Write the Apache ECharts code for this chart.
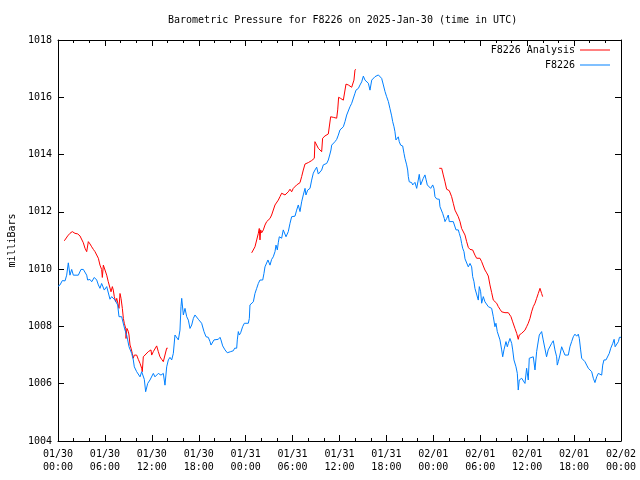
<!DOCTYPE html>
<html>
<head>
<meta charset="utf-8">
<script src="https://cdn.jsdelivr.net/npm/echarts@6/dist/echarts.min.js"></script>
<style>html,body{margin:0;padding:0;background:#fff}#c{width:640px;height:480px}</style>
</head>
<body>
<div id="c"></div>
<script>
const titleText = 'Barometric Pressure for F8226 on 2025-Jan-30 (time in UTC)';
const yAxisName = 'milliBars';
const xTickLabels = ['01/30\n00:00','01/30\n06:00','01/30\n12:00','01/30\n18:00','01/31\n00:00','01/31\n06:00','01/31\n12:00','01/31\n18:00','02/01\n00:00','02/01\n06:00','02/01\n12:00','02/01\n18:00','02/02\n00:00'];
const seriesNames = ['F8226 Analysis', 'F8226'];

// hours since 2025-01-30 00:00 UTC, pressure in mbar
const stationData = [
[0,1009.40],[0.26,1009.45],[0.55,1009.60],[0.90,1009.59],[1.11,1009.79],[1.32,1010.22],[1.53,1009.79],[1.75,1009.99],[1.96,1009.79],[2.17,1009.74],[2.60,1009.79],[2.94,1009.99],[3.24,1009.99],[3.67,1009.79],[3.79,1009.62],[4.09,1009.64],[4.31,1009.56],[4.64,1009.71],[4.95,1009.62],[5.16,1009.45],[5.37,1009.33],[5.58,1009.50],[5.92,1009.27],[6.23,1009.39],[6.43,1009.45],[6.65,1008.95],[6.86,1009.04],[7.29,1008.92],[7.63,1008.75],[7.80,1008.34],[8.14,1008.34],[8.40,1008.05],[8.57,1007.87],[8.78,1007.70],[8.91,1007.53],[9.08,1007.29],[9.42,1007.06],[9.63,1006.83],[9.76,1006.59],[10.06,1006.42],[10.49,1006.24],[10.70,1006.42],[10.91,1006.36],[11.04,1006.15],[11.21,1005.72],[11.47,1006.01],[11.76,1006.13],[12.19,1006.36],[12.40,1006.24],[12.83,1006.36],[13.17,1006.30],[13.47,1006.36],[13.68,1005.95],[13.90,1006.59],[14.11,1006.83],[14.32,1006.92],[14.54,1006.83],[14.75,1007.06],[14.96,1007.70],[15.18,1007.70],[15.39,1007.53],[15.60,1007.87],[15.73,1008.69],[15.82,1008.98],[16.03,1008.40],[16.24,1008.63],[16.46,1008.34],[16.67,1008.22],[16.88,1007.93],[17.10,1008.05],[17.31,1008.28],[17.52,1008.40],[17.74,1008.34],[17.95,1008.25],[18.37,1008.11],[18.50,1008.08],[18.67,1007.82],[18.93,1007.64],[19.22,1007.62],[19.44,1007.47],[19.57,1007.35],[19.78,1007.39],[19.95,1007.53],[20.50,1007.55],[20.72,1007.62],[20.84,1007.53],[21.06,1007.32],[21.36,1007.18],[21.65,1007.08],[21.87,1007.04],[22.08,1007.12],[22.42,1007.15],[22.59,1007.24],[22.85,1007.24],[22.93,1007.53],[23.06,1007.82],[23.19,1007.70],[23.36,1007.78],[23.61,1007.99],[23.83,1008.11],[24.34,1008.11],[24.47,1008.28],[24.55,1008.75],[24.77,1008.81],[24.98,1008.86],[25.19,1009.15],[25.41,1009.33],[25.62,1009.50],[25.83,1009.62],[26.18,1009.62],[26.34,1009.85],[26.47,1010.08],[26.69,1010.14],[26.85,1010.32],[27.11,1010.14],[27.32,1010.34],[27.53,1010.43],[27.75,1010.61],[27.88,1010.84],[28.05,1010.67],[28.17,1010.92],[28.30,1011.13],[28.60,1011.08],[28.81,1011.37],[28.94,1011.42],[29.16,1011.13],[29.45,1011.31],[29.67,1011.60],[29.88,1011.83],[30.31,1011.85],[30.52,1012.06],[30.73,1012.24],[30.95,1012.01],[31.16,1012.35],[31.37,1012.59],[31.59,1012.82],[31.71,1012.59],[31.93,1012.76],[32.23,1012.82],[32.44,1013.11],[32.65,1013.35],[32.86,1013.46],[33.08,1013.56],[33.29,1013.32],[33.50,1013.29],[33.72,1013.46],[33.93,1013.64],[34.36,1013.69],[34.57,1013.81],[34.78,1014.02],[34.91,1014.16],[35.00,1014.33],[35.21,1014.37],[35.42,1014.45],[35.64,1014.53],[35.85,1014.68],[36.06,1014.86],[36.28,1014.92],[36.49,1014.97],[36.70,1015.15],[36.92,1015.38],[37.13,1015.44],[37.34,1015.67],[37.56,1015.79],[37.77,1015.85],[37.98,1016.14],[38.11,1016.25],[38.41,1016.31],[38.62,1016.43],[38.84,1016.54],[39.05,1016.74],[39.26,1016.60],[39.48,1016.66],[39.69,1016.49],[39.90,1016.25],[40.12,1016.60],[40.33,1016.66],[40.54,1016.72],[40.97,1016.78],[41.18,1016.84],[41.39,1016.66],[41.61,1016.43],[41.82,1016.20],[42.03,1016.02],[42.25,1015.85],[42.46,1015.60],[42.67,1015.35],[42.80,1015.15],[42.97,1014.97],[43.09,1014.80],[43.22,1014.51],[43.31,1014.45],[43.39,1014.57],[43.52,1014.62],[43.64,1014.45],[43.82,1014.33],[44.08,1014.30],[44.25,1014.04],[44.37,1013.87],[44.59,1013.64],[44.72,1013.46],[44.80,1013.23],[44.92,1013.05],[45.23,1013.02],[45.36,1012.94],[45.52,1013.00],[45.65,1013.03],[45.87,1012.82],[46.07,1013.11],[46.20,1013.31],[46.38,1012.94],[46.51,1013.00],[46.71,1013.17],[46.93,1013.29],[47.06,1013.14],[47.23,1012.94],[47.48,1012.94],[47.66,1012.82],[47.92,1012.94],[48.08,1012.82],[48.21,1012.53],[48.43,1012.45],[48.76,1012.44],[48.85,1012.18],[49.07,1012.12],[49.19,1011.95],[49.40,1011.77],[49.49,1011.66],[49.71,1011.77],[49.91,1011.89],[50.04,1011.66],[50.55,1011.66],[50.77,1011.71],[50.90,1011.37],[51.06,1011.42],[51.19,1011.37],[51.32,1011.25],[51.50,1011.08],[51.62,1010.90],[51.75,1010.73],[51.92,1010.61],[52.05,1010.36],[52.26,1010.32],[52.47,1010.08],[52.69,1010.20],[52.90,1010.08],[53.03,1009.74],[53.20,1009.56],[53.32,1009.33],[53.54,1009.27],[53.75,1008.92],[53.88,1009.39],[54.05,1009.21],[54.18,1008.81],[54.39,1009.04],[54.60,1008.86],[54.82,1008.81],[55.03,1008.69],[55.24,1008.67],[55.46,1008.63],[55.67,1008.34],[55.88,1007.99],[56.01,1008.11],[56.18,1007.82],[56.31,1007.87],[56.52,1007.53],[56.74,1007.18],[56.87,1006.94],[57.03,1007.18],[57.29,1007.47],[57.46,1007.29],[57.59,1007.41],[57.80,1007.58],[58.02,1007.41],[58.15,1007.18],[58.31,1006.83],[58.57,1006.59],[58.74,1006.36],[58.86,1005.78],[58.99,1006.13],[59.17,1006.07],[59.30,1006.19],[59.50,1006.13],[59.72,1006.01],[59.93,1006.54],[60.14,1006.13],[60.27,1006.89],[60.45,1006.94],[60.78,1006.94],[61.00,1006.48],[61.21,1007.12],[61.34,1007.35],[61.55,1007.70],[61.85,1007.82],[62.05,1007.53],[62.26,1007.47],[62.48,1006.94],[62.69,1007.18],[62.90,1007.24],[63.13,1007.41],[63.34,1007.50],[63.55,1007.18],[63.77,1006.94],[63.85,1006.65],[63.98,1006.77],[64.19,1007.00],[64.41,1007.29],[64.62,1007.35],[64.83,1007.00],[65.05,1006.94],[65.26,1007.00],[65.47,1007.29],[65.69,1007.47],[65.90,1007.64],[66.11,1007.73],[66.33,1007.66],[66.54,1007.73],[66.67,1007.58],[66.84,1007.18],[66.97,1006.89],[67.18,1006.83],[67.39,1006.77],[67.61,1006.65],[67.82,1006.54],[68.03,1006.48],[68.25,1006.42],[68.46,1006.19],[68.67,1006.04],[68.89,1006.24],[69.10,1006.36],[69.31,1006.42],[69.53,1006.30],[69.66,1006.65],[69.82,1006.83],[70.08,1006.83],[70.25,1006.89],[70.50,1007.06],[70.69,1007.24],[70.95,1007.41],[71.12,1007.55],[71.25,1007.29],[71.46,1007.35],[71.67,1007.47],[71.80,1007.62],[72.0,1007.62]
];

const analysisRun1 = [
[0.81,1010.99],[0.98,1011.04],[1.24,1011.16],[1.53,1011.25],[1.83,1011.31],[2.17,1011.25],[2.52,1011.23],[2.81,1011.16],[3.03,1011.11],[3.24,1010.92],[3.45,1010.73],[3.67,1010.61],[3.80,1010.55],[3.88,1010.96],[4.09,1010.88],[4.31,1010.78],[4.52,1010.69],[4.73,1010.61],[4.95,1010.55],[5.16,1010.38],[5.37,1010.14],[5.58,1009.99],[5.67,1009.71],[5.80,1010.14],[6.01,1010.08],[6.23,1009.79],[6.43,1009.56],[6.65,1009.50],[6.78,1009.21],[6.95,1009.39],[7.07,1009.27],[7.20,1009.04],[7.38,1008.86],[7.51,1008.98],[7.72,1008.92],[7.80,1008.63],[7.93,1009.15],[8.06,1008.98],[8.23,1008.63],[8.36,1008.28],[8.48,1008.11],[8.66,1007.93],[8.70,1007.58],[8.82,1007.93],[9.00,1007.82],[9.08,1007.70],[9.21,1007.35],[9.34,1007.24],[9.50,1007.06],[9.63,1006.89],[9.76,1007.00],[9.85,1007.06],[10.06,1007.00],[10.27,1006.85],[10.49,1006.71],[10.70,1006.54],[10.78,1006.42],[10.91,1006.94],[11.13,1007.00],[11.55,1007.12],[11.89,1007.18],[11.98,1007.00],[12.19,1007.12],[12.62,1007.32],[12.83,1007.12],[13.04,1006.94],[13.26,1006.85],[13.47,1006.77],[13.68,1006.71],[13.90,1007.24],[14.03,1007.24]
];
const analysisRun2 = [
[24.77,1010.57],[24.98,1010.55],[25.19,1010.78],[25.41,1011.02],[25.62,1011.25],[25.74,1011.42],[25.83,1011.02],[25.92,1011.37],[26.05,1011.27],[26.26,1011.37],[26.47,1011.54],[26.69,1011.66],[27.11,1011.77],[27.32,1011.89],[27.53,1011.95],[27.75,1012.24],[27.97,1012.30],[28.17,1012.41],[28.39,1012.53],[28.60,1012.65],[28.81,1012.67],[29.03,1012.59],[29.24,1012.65],[29.45,1012.70],[29.67,1012.79],[29.88,1012.70],[30.09,1012.82],[30.52,1012.94],[30.95,1013.02],[31.16,1013.23],[31.37,1013.46],[31.59,1013.67],[32.01,1013.72],[32.44,1013.79],[32.65,1013.81],[32.78,1013.87],[32.86,1014.45],[33.29,1014.22],[33.50,1014.16],[33.72,1014.10],[33.84,1014.57],[34.14,1014.65],[34.57,1014.72],[34.78,1014.76],[34.87,1015.32],[35.21,1015.30],[35.42,1015.27],[35.64,1015.27],[35.77,1015.56],[35.89,1016.00],[36.15,1015.96],[36.49,1015.90],[36.70,1015.93],[36.83,1016.46],[37.13,1016.43],[37.34,1016.37],[37.56,1016.35],[37.77,1016.31],[37.85,1016.60],[37.98,1016.95],[38.07,1016.98]
];
const analysisRun3 = [
[48.76,1013.52],[49.07,1013.52],[49.27,1013.29],[49.49,1013.05],[49.70,1012.79],[50.04,1012.74],[50.34,1012.53],[50.55,1012.30],[50.77,1012.06],[50.98,1012.04],[51.19,1011.83],[51.41,1011.66],[51.62,1011.42],[51.83,1011.39],[52.05,1011.19],[52.26,1010.96],[52.47,1010.76],[52.69,1010.69],[53.03,1010.67],[53.32,1010.49],[53.54,1010.38],[53.75,1010.32],[53.96,1010.38],[54.18,1010.26],[54.39,1010.11],[54.60,1009.97],[54.82,1009.87],[55.03,1009.76],[55.24,1009.45],[55.46,1009.18],[55.67,1008.92],[55.88,1008.86],[56.10,1008.81],[56.31,1008.69],[56.52,1008.60],[56.74,1008.51],[56.95,1008.46],[57.16,1008.48],[57.59,1008.48],[57.80,1008.46],[57.93,1008.34],[58.15,1008.16],[58.44,1007.93],[58.66,1007.76],[58.86,1007.55],[58.99,1007.70],[59.30,1007.76],[59.50,1007.82],[59.72,1007.87],[59.93,1007.99],[60.14,1008.11],[60.36,1008.28],[60.57,1008.51],[60.78,1008.69],[61.00,1008.81],[61.21,1008.98],[61.42,1009.15],[61.64,1009.33],[61.77,1009.27],[61.85,1009.15],[61.98,1009.04]
];

const FONT = 'DejaVu Sans Mono';
const RED = '#ff0000';
const BLUE = '#0080ff';

const chart = echarts.init(document.getElementById('c'), null, {renderer: 'canvas'});

function xAxisCfg(pos, showLabels) {
  return {
    type: 'value', position: pos, min: 0, max: 72, interval: 6,
    axisLine: {show: true, onZero: false, lineStyle: {color: '#000', width: 1}},
    axisTick: {show: true, inside: true, length: 6, lineStyle: {color: '#000'}},
    minorTick: {show: true, splitNumber: 3, length: 3, lineStyle: {color: '#000'}},
    splitLine: {show: false},
    axisLabel: {show: showLabels, fontFamily: FONT, fontSize: 10, color: '#000', lineHeight: 13, margin: 7,
      formatter: v => xTickLabels[Math.round(v / 6)]}
  };
}
function yAxisCfg(pos, showLabels) {
  const c = {
    type: 'value', position: pos, min: 1004, max: 1018, interval: 2,
    axisLine: {show: true, onZero: false, lineStyle: {color: '#000', width: 1}},
    axisTick: {show: true, inside: true, length: 6, lineStyle: {color: '#000'}},
    splitLine: {show: false},
    axisLabel: {show: showLabels, fontFamily: FONT, fontSize: 10, color: '#000', margin: 6,
      formatter: v => String(Math.round(v))}
  };
  if (showLabels) {
    c.name = yAxisName; c.nameLocation = 'middle'; c.nameGap = 36; c.nameRotate = 90;
    c.nameTextStyle = {fontFamily: FONT, fontSize: 10, color: '#000'};
  }
  return c;
}

const lineBase = {type: 'line', showSymbol: false, symbol: 'none', animation: false, xAxisIndex: 0, yAxisIndex: 0};

chart.setOption({
  animation: false,
  backgroundColor: '#fff',
  title: {text: titleText, left: 163, top: 10, textStyle: {fontFamily: FONT, fontSize: 10, fontWeight: 'normal', color: '#000'}},
  legend: {
    data: seriesNames, orient: 'vertical', align: 'right', right: 25, top: 40,
    itemWidth: 30, itemHeight: 1, itemGap: 5, icon: 'rect',
    textStyle: {fontFamily: FONT, fontSize: 10, color: '#000'}
  },
  grid: {left: 58, right: 19, top: 40, bottom: 39, containLabel: false, outerBoundsMode: 'none'},
  xAxis: [xAxisCfg('bottom', true), xAxisCfg('top', false)],
  yAxis: [yAxisCfg('left', true), yAxisCfg('right', false)],
  series: [
    Object.assign({}, lineBase, {name: seriesNames[0], data: analysisRun1, lineStyle: {color: RED, width: 1}, itemStyle: {color: RED}}),
    Object.assign({}, lineBase, {name: seriesNames[0], data: analysisRun2, lineStyle: {color: RED, width: 1}, itemStyle: {color: RED}}),
    Object.assign({}, lineBase, {name: seriesNames[0], data: analysisRun3, lineStyle: {color: RED, width: 1}, itemStyle: {color: RED}}),
    Object.assign({}, lineBase, {name: seriesNames[1], data: stationData, lineStyle: {color: BLUE, width: 1}, itemStyle: {color: BLUE}})
  ]
});
</script>
</body>
</html>
